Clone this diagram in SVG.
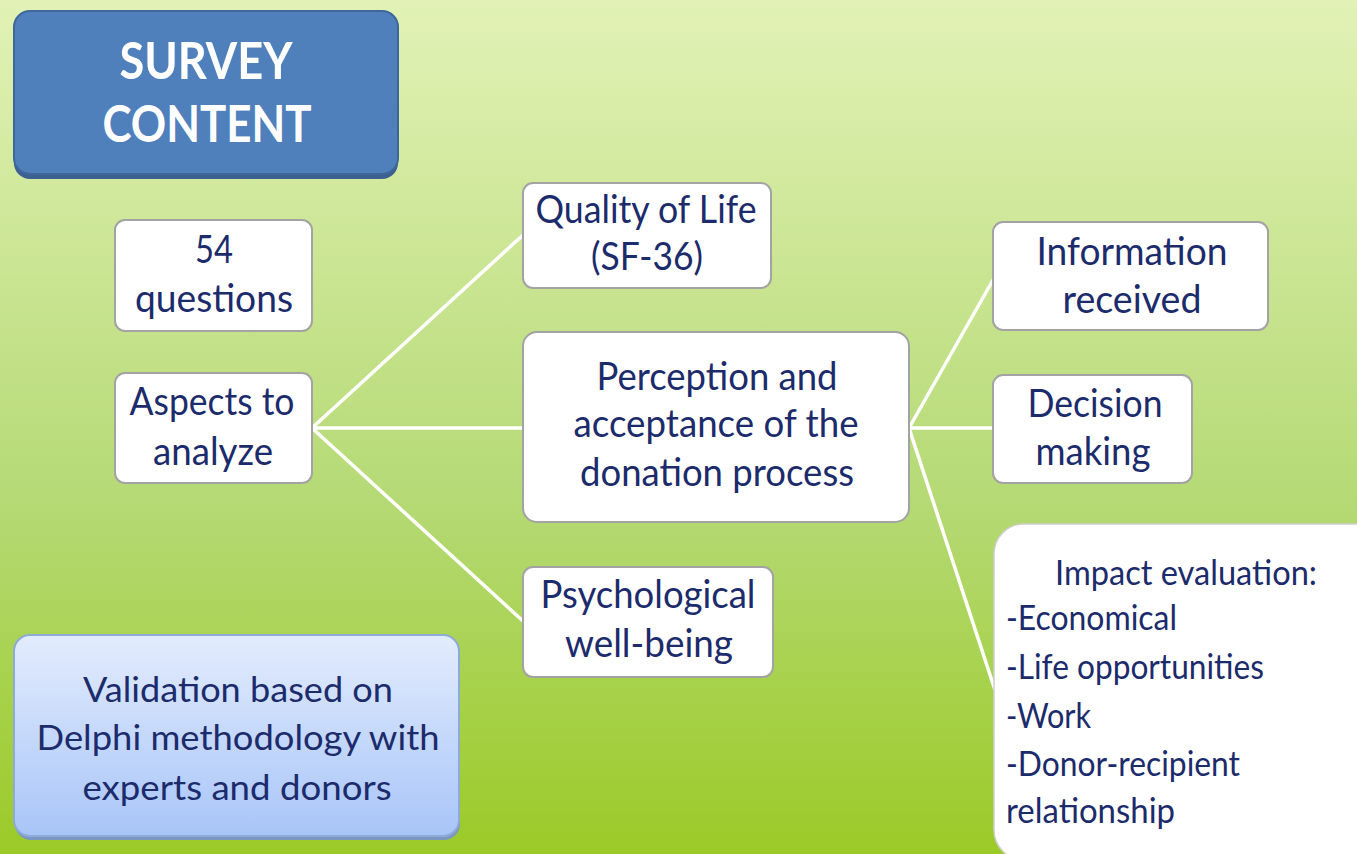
<svg xmlns="http://www.w3.org/2000/svg" width="1357" height="854" viewBox="0 0 1357 854">
<defs>
<linearGradient id="bg" x1="0" y1="0" x2="0" y2="1">
<stop offset="0" stop-color="#e2f2b6"/>
<stop offset="0.6" stop-color="#b4d973"/>
<stop offset="0.8" stop-color="#a7d24c"/>
<stop offset="1" stop-color="#9bca28"/>
</linearGradient>
<linearGradient id="val" x1="0" y1="0" x2="0" y2="1">
<stop offset="0" stop-color="#e3ecfd"/>
<stop offset="1" stop-color="#a8c5f8"/>
</linearGradient>
<style>
.box{fill:#ffffff;stroke:#a3a3a3;stroke-width:2}
.t{font-family:Lato,"Open Sans",sans-serif;font-size:38px;fill:#1c2b6b;text-anchor:middle}
.ti{font-family:Lato,"Open Sans",sans-serif;font-size:34px;fill:#1c2b6b}
.tv{font-family:Lato,"Open Sans",sans-serif;font-size:35px;fill:#1c2b6b;text-anchor:middle}
.title{font-family:Lato,"Open Sans",sans-serif;font-size:52px;font-weight:bold;fill:#ffffff;text-anchor:middle}
.conn{stroke:#ffffff;stroke-width:3.5;fill:none;stroke-linecap:round}
</style>
</defs>
<rect x="0" y="0" width="1357" height="854" fill="url(#bg)"/>

<g id="connectors">
<line class="conn" x1="312" y1="428" x2="523" y2="235"/>
<line class="conn" x1="312" y1="428" x2="523" y2="428"/>
<line class="conn" x1="312" y1="428" x2="523" y2="621"/>
<line class="conn" x1="909" y1="428" x2="993" y2="280"/>
<line class="conn" x1="909" y1="428" x2="993" y2="428"/>
<line class="conn" x1="909" y1="428" x2="995" y2="690"/>
</g>

<g id="survey-content">
<rect x="14" y="13" width="384" height="166" rx="16" fill="#3c6191"/>
<rect x="14" y="11" width="384" height="163" rx="16" fill="#4f80bc" stroke="#3f6698" stroke-width="2"/>
<text class="title" x="206" y="79" textLength="173" lengthAdjust="spacingAndGlyphs">SURVEY</text>
<text class="title" x="207" y="142" textLength="209" lengthAdjust="spacingAndGlyphs">CONTENT</text>
</g>

<g id="questions">
<rect class="box" x="115" y="220" width="197" height="111" rx="10"/>
<text class="t" x="214" y="263" textLength="38" lengthAdjust="spacingAndGlyphs">54</text>
<text class="t" x="214" y="312" textLength="158" lengthAdjust="spacingAndGlyphs">questions</text>
</g>

<g id="aspects">
<rect class="box" x="115" y="373" width="197" height="110" rx="10"/>
<text class="t" x="212" y="415" textLength="165" lengthAdjust="spacingAndGlyphs">Aspects to</text>
<text class="t" x="213" y="465" textLength="120" lengthAdjust="spacingAndGlyphs">analyze</text>
</g>

<g id="quality">
<rect class="box" x="523" y="183" width="248" height="105" rx="10"/>
<text class="t" x="646" y="223" textLength="221" lengthAdjust="spacingAndGlyphs">Quality of Life</text>
<text class="t" x="647" y="270" textLength="112" lengthAdjust="spacingAndGlyphs">(SF-36)</text>
</g>

<g id="perception">
<rect class="box" x="523" y="332" width="386" height="190" rx="14"/>
<text class="t" x="717" y="390" textLength="241" lengthAdjust="spacingAndGlyphs">Perception and</text>
<text class="t" x="716" y="437" textLength="285" lengthAdjust="spacingAndGlyphs">acceptance of the</text>
<text class="t" x="717" y="486" textLength="274" lengthAdjust="spacingAndGlyphs">donation process</text>
</g>

<g id="psychological">
<rect class="box" x="523" y="567" width="250" height="110" rx="10"/>
<text class="t" x="648" y="608" textLength="215" lengthAdjust="spacingAndGlyphs">Psychological</text>
<text class="t" x="649" y="657" textLength="168" lengthAdjust="spacingAndGlyphs">well-being</text>
</g>

<g id="information">
<rect class="box" x="993" y="222" width="275" height="108" rx="10"/>
<text class="t" x="1132" y="265" textLength="191" lengthAdjust="spacingAndGlyphs">Information</text>
<text class="t" x="1132" y="313" textLength="139" lengthAdjust="spacingAndGlyphs">received</text>
</g>

<g id="decision">
<rect class="box" x="993" y="375" width="199" height="108" rx="10"/>
<text class="t" x="1095" y="417" textLength="135" lengthAdjust="spacingAndGlyphs">Decision</text>
<text class="t" x="1093" y="465" textLength="115" lengthAdjust="spacingAndGlyphs">making</text>
</g>

<g id="impact">
<rect x="994" y="524" width="420" height="336" rx="30" fill="#ffffff" stroke="#cfcfcf" stroke-width="1.5"/>
<text class="ti" x="1055" y="585" textLength="262" lengthAdjust="spacingAndGlyphs">Impact evaluation:</text>
<text class="ti" x="1006" y="630" textLength="171" lengthAdjust="spacingAndGlyphs">-Economical</text>
<text class="ti" x="1006" y="679" textLength="258" lengthAdjust="spacingAndGlyphs">-Life opportunities</text>
<text class="ti" x="1006" y="728" textLength="85" lengthAdjust="spacingAndGlyphs">-Work</text>
<text class="ti" x="1006" y="776" textLength="234" lengthAdjust="spacingAndGlyphs">-Donor-recipient</text>
<text class="ti" x="1006" y="823" textLength="169" lengthAdjust="spacingAndGlyphs">relationship</text>
</g>

<g id="validation">
<rect x="15" y="637" width="445" height="203" rx="16" fill="#7c97c2"/>
<rect x="14" y="635" width="445" height="201" rx="16" fill="url(#val)" stroke="#8eaad6" stroke-width="2"/>
<text class="tv" x="238" y="702" textLength="310" lengthAdjust="spacingAndGlyphs">Validation based on</text>
<text class="tv" x="238" y="750" textLength="403" lengthAdjust="spacingAndGlyphs">Delphi methodology with</text>
<text class="tv" x="237" y="800" textLength="309" lengthAdjust="spacingAndGlyphs">experts and donors</text>
</g>
</svg>
